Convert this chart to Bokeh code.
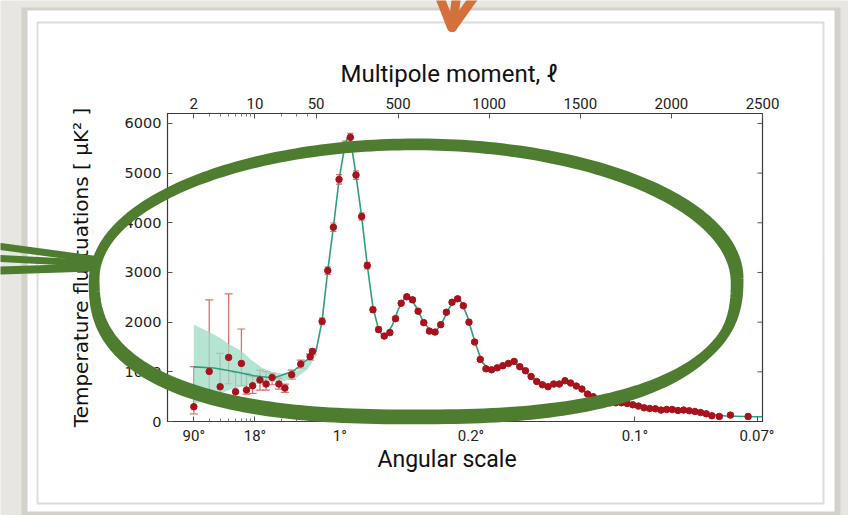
import numpy as np
from bokeh.plotting import figure
from bokeh.models import (ColumnDataSource, LinearAxis, FixedTicker, Range1d,
                          Whisker, TeeHead, Title)
from bokeh.embed import file_html
from bokeh.resources import INLINE

# ---------------- data ----------------
top_tick_ell = [2, 10, 50, 500, 1000, 1500, 2000, 2500]
top_tick_labels = ["2", "10", "50", "500", "1000", "1500", "2000", "2500"]
minor_tick_ell = [3, 4, 5, 6, 7, 8, 9, 20, 30, 40]
angle_tick_ell = [2, 10, 180, 900, 1800, 2470]
angle_tick_labels = ["90°", "18°", "1°", "0.2°", "0.1°", "0.07°"]
y_ticks = [0, 1000, 2000, 3000, 4000, 5000, 6000]

low_ell = [2, 3, 4, 5, 6, 7, 8, 9.4, 11.4, 13.4, 15.7, 18.8, 22, 26.3, 33.4, 42.7, 45.4]
low_D = [296, 1008, 700, 1290, 600, 1169, 633, 720, 835, 754, 887, 754, 673, 941, 1157, 1304, 1411]
low_lo = [155, 620, 380, 760, 330, 720, 552, 565, 633, 633, 740, 653, 585, 855, 1076, 1237, 1344]
low_hi = [1103, 2447, 1371, 2569, 988, 1862, 968, 901, 1036, 1002, 968, 867, 754, 1036, 1237, 1358, 1459]

high_ell = [83, 114, 145, 176, 207, 238, 269, 300, 331, 362,
            393, 424, 455, 486, 517, 548, 579, 610, 641, 672,
            703, 734, 765, 796, 827, 858, 889, 920, 951, 982,
            1013, 1044, 1075, 1106, 1137, 1168, 1199, 1230, 1261, 1292,
            1323, 1354, 1385, 1416, 1447, 1478, 1509, 1540, 1571, 1602,
            1633, 1664, 1695, 1726, 1757, 1788, 1819, 1850, 1881, 1912,
            1943, 1974, 2005, 2036, 2067, 2098, 2129, 2160, 2191, 2222,
            2263, 2324, 2421]
high_D = [2016, 3038, 3911, 4873, 5550, 5720, 4960, 4127, 3139, 2250,
          1850, 1720, 1790, 2070, 2380, 2510, 2450, 2220, 1990, 1820,
          1800, 1950, 2200, 2400, 2470, 2330, 2000, 1600, 1250, 1060,
          1040, 1080, 1123, 1169, 1210, 1103, 1022, 907, 806, 740,
          700, 754, 754, 820, 774, 714, 653, 552, 500, 440,
          397, 377, 377, 377, 363, 337, 310, 276, 262, 256,
          230, 242, 242, 222, 230, 216, 202, 181, 155, 115,
          101, 129, 101]
high_err = [68, 75, 85, 95, 95, 80, 85, 75, 65, 55,
            50, 45, 45, 45, 45, 45, 45, 45, 40, 40,
            40, 40, 40, 40, 40, 40, 40, 35, 35, 30,
            30, 30, 30, 30, 30, 30, 30, 28, 28, 28,
            28, 28, 28, 28, 28, 28, 28, 28, 28, 28,
            28, 28, 28, 28, 28, 28, 28, 28, 28, 28,
            28, 28, 28, 30, 30, 30, 30, 30, 32, 34,
            36, 40, 45]

model_ell = [2, 3.4, 5.75, 9.7, 16.5, 28, 45, 50,
             83, 114, 145, 176, 207, 222, 238, 269, 300, 331,
             362, 393, 415, 440, 470, 500, 540, 570, 600, 640,
             680, 710, 740, 780, 815, 845, 880, 920, 960, 1000,
             1040, 1090, 1130, 1170, 1220, 1270, 1320, 1360, 1410, 1450,
             1500, 1550, 1600, 1650, 1700, 1750, 1800, 1850, 1900, 1950,
             2000, 2050, 2100, 2150, 2200, 2250, 2300, 2400, 2500]
model_D = [1100, 1076, 1008, 921, 875, 1022, 1325, 1420,
           2030, 3040, 3910, 4870, 5540, 5720, 5700, 4960, 4130, 3140,
           2300, 1850, 1720, 1760, 1950, 2250, 2520, 2480, 2300, 2000,
           1820, 1830, 1980, 2280, 2460, 2420, 2120, 1620, 1200, 1040,
           1080, 1150, 1200, 1100, 930, 790, 710, 740, 790, 770,
           670, 530, 430, 385, 370, 355, 320, 285, 255, 240,
           230, 225, 212, 190, 160, 125, 110, 100, 95]

band_ell = [2, 3, 4, 5, 7, 9, 12, 16, 22, 30, 40, 50, 83]
band_hi = [1950, 1800, 1680, 1560, 1420, 1250, 1080, 990, 960, 1020, 1220, 1480, 2060]
band_lo = [340, 470, 560, 630, 700, 740, 770, 790, 820, 880, 1050, 1330, 2000]

# ---------------- axis transform (log up to 50, linear above) ----------------
SPLIT = 50.0
LIN_PER_DECADE = 480.0


def u(ell):
    ell = np.asarray(ell, dtype=float)
    return np.where(ell <= SPLIT, np.log10(np.maximum(ell, 1e-9)),
                    np.log10(SPLIT) + (ell - SPLIT) / LIN_PER_DECADE)


X0, X1 = 0.0, float(u(2500))
Y0, Y1 = 0.0, 6200.0
W, H = 848, 515
FL, FR, FT, FB = 167, 762, 113, 421   # frame edges in page pixels


def layer(z):
    return {"position": "absolute", "top": "0px", "left": "0px", "z-index": str(z)}


# ================= layer 1: page background and card =================
bg = figure(width=W, height=H, output_backend="svg", toolbar_location=None,
            x_range=Range1d(0, W), y_range=Range1d(H, 0), min_border=0,
            x_axis_location=None, y_axis_location=None, styles=layer(0))
bg.grid.visible = False
bg.outline_line_color = None
bg.background_fill_color = "#e8e6e1"
bg.border_fill_color = "#e8e6e1"
bg.quad(left=[21], right=[840], top=[7], bottom=[516], fill_color="#cbc7c1", fill_alpha=0.7, line_color=None)
bg.quad(left=[27], right=[834], top=[10], bottom=[511], fill_color="white", line_color=None)
bg.quad(left=[37], right=[823], top=[22], bottom=[503], fill_color=None, line_color="#dcdcdc", line_width=2)

# ================= layer 2: the chart =================
p = figure(width=W, height=H, output_backend="svg", toolbar_location=None,
           x_range=Range1d(X0, X1), y_range=Range1d(Y0, Y1),
           min_border_left=FL, min_border_right=W - FR,
           min_border_top=FT, min_border_bottom=H - FB, styles=layer(1))
p.border_fill_color = None
p.background_fill_color = None
p.outline_line_color = "#3a3a3a"
p.outline_line_width = 1.2
p.grid.visible = False

tick_font = "Roboto"

bottom = p.below[0]
bottom.ticker = FixedTicker(ticks=[float(v) for v in u(angle_tick_ell)],
                            minor_ticks=[float(v) for v in u(minor_tick_ell)])
bottom.major_label_overrides = {float(v): s for v, s in zip(u(angle_tick_ell), angle_tick_labels)}

top = LinearAxis(ticker=FixedTicker(ticks=[float(v) for v in u(top_tick_ell)],
                                    minor_ticks=[float(v) for v in u(minor_tick_ell)]))
top.major_label_overrides = {float(v): s for v, s in zip(u(top_tick_ell), top_tick_labels)}
p.add_layout(top, "above")

for ax in (bottom, top):
    ax.major_label_text_font = tick_font
    ax.major_label_text_font_size = "15px"
    ax.major_label_text_color = "#222222"
    ax.major_label_standoff = 5
    ax.major_tick_in = 5
    ax.major_tick_out = 0
    ax.minor_tick_in = 3
    ax.minor_tick_out = 0
    ax.axis_line_color = "#3a3a3a"
    ax.major_tick_line_color = "#555555"
    ax.minor_tick_line_color = "#777777"

p.add_layout(Title(text="Multipole moment, ℓ", align="left", offset=173, standoff=13,
                   text_font=tick_font, text_font_size="24px", text_font_style="normal",
                   text_color="#111111"), "above")
p.add_layout(Title(text="Angular scale", align="left", offset=210, standoff=-8,
                   text_font=tick_font, text_font_size="23px", text_font_style="normal",
                   text_color="#111111"), "below")

left = p.left[0]
left.ticker = FixedTicker(ticks=y_ticks)
left.axis_label = "Temperature fluctuations [ μK² ]"
left.major_label_text_font = "DejaVu Sans"
left.major_label_text_font_size = "14.5px"
left.major_label_text_color = "#222222"
left.major_label_standoff = 6
left.axis_label_text_font = "DejaVu Sans"
left.axis_label_text_font_size = "20px"
left.axis_label_text_font_style = "normal"
left.axis_label_text_color = "#111111"
left.axis_label_standoff = 29
left.major_tick_in = 5
left.major_tick_out = 0
left.minor_tick_line_color = None
left.axis_line_color = "#3a3a3a"
left.major_tick_line_color = "#555555"

# inward ticks on the right spine
p.ray(x=[X1] * len(y_ticks), y=y_ticks, length=5, length_units="screen",
      angle=np.pi, line_color="#555555", line_width=1)

# cosmic-variance band and model
p.varea(x=u(band_ell), y1=band_lo, y2=band_hi, fill_color="#9edbc4", fill_alpha=0.75)
p.line(x=u(model_ell), y=model_D, line_color="#2f9e80", line_width=1.6)

# error bars + points
err_color = "#dc6e70"
low_src = ColumnDataSource(dict(x=u(low_ell), y=low_D, lo=low_lo, hi=low_hi))
high_src = ColumnDataSource(dict(x=u(high_ell), y=high_D,
                                 lo=np.array(high_D) - np.array(high_err),
                                 hi=np.array(high_D) + np.array(high_err)))
for src, cap in ((low_src, 8), (high_src, 6)):
    p.add_layout(Whisker(source=src, base="x", lower="lo", upper="hi",
                         line_color=err_color, line_width=1.3,
                         upper_head=TeeHead(size=cap, line_color=err_color, line_width=1.2),
                         lower_head=TeeHead(size=cap, line_color=err_color, line_width=1.2)))

p.scatter(x="x", y="y", source=low_src, size=6.5, fill_color="#a8121c", line_color="#a8121c")
p.scatter(x="x", y="y", source=high_src, size=6.5, fill_color="#a8121c", line_color="#a8121c")

# ================= layer 3: hand-drawn overlay =================
ov = figure(width=W, height=H, output_backend="svg", toolbar_location=None,
            x_range=Range1d(0, W), y_range=Range1d(H, 0), min_border=0,
            x_axis_location=None, y_axis_location=None, styles=layer(2))
ov.grid.visible = False
ov.outline_line_color = None
ov.background_fill_color = None
ov.border_fill_color = None

green = "#4f7d30"


def loop(cx, cy, a, bt, bb, nb, npts=300):
    t = np.linspace(0, 2 * np.pi, npts)
    c, s = np.cos(t), np.sin(t)
    ex = np.where(s > 0, 2.0 / nb, 1.0)
    xs = cx + a * np.sign(c) * np.abs(c) ** ex
    ys = cy + np.where(s > 0, bb * np.abs(s) ** (2.0 / nb), bt * s)
    return xs, ys


for (cx, cy, a, bt, bb, nb, lw) in ((416, 278, 322, 135, 136, 2.5, 10),
                                    (413, 282, 321, 136, 138, 2.5, 7.5)):
    xs, ys = loop(cx, cy, a, bt, bb, nb)
    ov.line(xs, ys, line_color=green, line_width=lw, line_join="round")

for (x0, y0, x1, y1, lw) in ((0, 246, 96, 259, 7), (0, 258, 96, 263, 7), (0, 270, 92, 267, 8)):
    ov.line([x0, x1], [y0, y1], line_color=green, line_width=lw, line_cap="round")

orange = "#d4713a"
for (x0, y0, x1, y1) in ((439, -4, 451, 27), (474, -4, 452, 27), (456, -4, 452, 27)):
    ov.line([x0, x1], [y0, y1], line_color=orange, line_width=9, line_cap="round")

open("out.html", "w").write(file_html([bg, p, ov], INLINE))
